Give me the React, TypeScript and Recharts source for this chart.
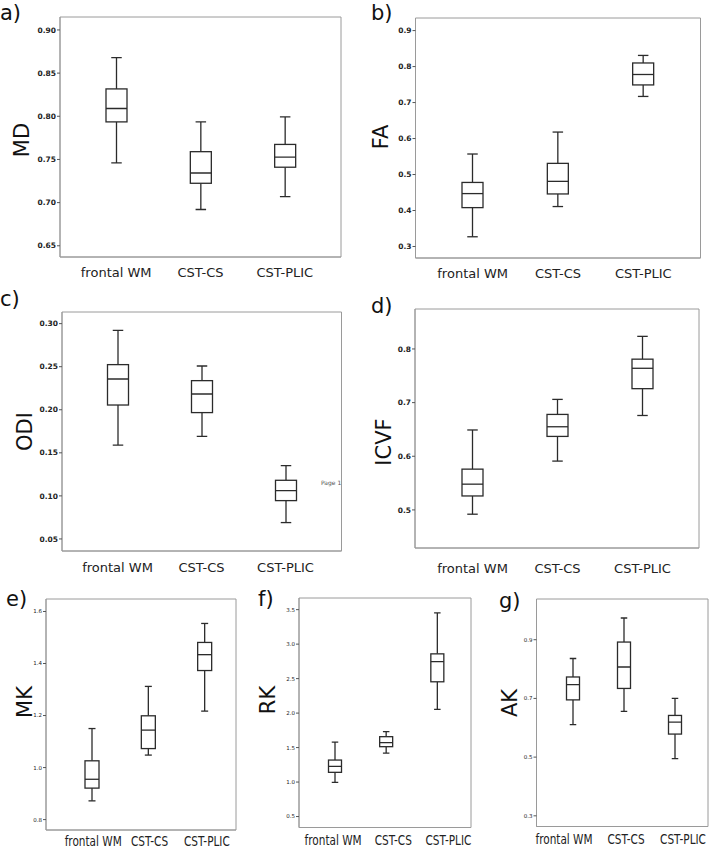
import { ComposedChart, Bar, XAxis, YAxis, CartesianGrid } from 'recharts';

const categories = ['frontal WM', 'CST-CS', 'CST-PLIC'];

// box plot stats per region: min, q1, median, q3, max
const mdMin = [0.746, 0.692, 0.707];
const mdQ1 = [0.7935, 0.7224, 0.741];
const mdMed = [0.809, 0.7343, 0.7528];
const mdQ3 = [0.8317, 0.759, 0.7674];
const mdMax = [0.868, 0.7935, 0.7993];
const mdTicks = [0.65, 0.7, 0.75, 0.8, 0.85, 0.9];

const faMin = [0.327, 0.411, 0.717];
const faQ1 = [0.408, 0.446, 0.749];
const faMed = [0.447, 0.481, 0.778];
const faQ3 = [0.478, 0.531, 0.81];
const faMax = [0.557, 0.618, 0.831];
const faTicks = [0.3, 0.4, 0.5, 0.6, 0.7, 0.8, 0.9];

const odiMin = [0.159, 0.169, 0.069];
const odiQ1 = [0.2055, 0.1967, 0.0945];
const odiMed = [0.2357, 0.2183, 0.1061];
const odiQ3 = [0.2524, 0.2338, 0.1181];
const odiMax = [0.2922, 0.2508, 0.1351];
const odiTicks = [0.05, 0.1, 0.15, 0.2, 0.25, 0.3];

const icvfMin = [0.492, 0.591, 0.676];
const icvfQ1 = [0.526, 0.637, 0.726];
const icvfMed = [0.548, 0.655, 0.764];
const icvfQ3 = [0.576, 0.678, 0.781];
const icvfMax = [0.649, 0.706, 0.8235];
const icvfTicks = [0.5, 0.6, 0.7, 0.8];

const mkMin = [0.872, 1.048, 1.217];
const mkQ1 = [0.921, 1.073, 1.373];
const mkMed = [0.955, 1.144, 1.434];
const mkQ3 = [1.026, 1.199, 1.481];
const mkMax = [1.15, 1.312, 1.554];
const mkTicks = [0.8, 1.0, 1.2, 1.4, 1.6];

const rkMin = [0.996, 1.42, 2.053];
const rkQ1 = [1.141, 1.513, 2.454];
const rkMed = [1.228, 1.571, 2.747];
const rkQ3 = [1.319, 1.658, 2.859];
const rkMax = [1.58, 1.73, 3.452];
const rkTicks = [0.5, 1.0, 1.5, 2.0, 2.5, 3.0, 3.5];

const akMin = [0.611, 0.656, 0.495];
const akQ1 = [0.695, 0.734, 0.5785];
const akMed = [0.747, 0.807, 0.619];
const akQ3 = [0.773, 0.892, 0.642];
const akMax = [0.836, 0.974, 0.7];
const akTicks = [0.3, 0.5, 0.7, 0.9];

const FONT = '"DejaVu Sans", sans-serif';
const FRAME = '#9a9a9a';
const INK = '#2b2b2b';

const buildRows = (mins: number[], q1: number[], med: number[], q3: number[], maxs: number[]) =>
  categories.map((name, i) => ({
    name,
    range: [mins[i], maxs[i]],
    min: mins[i],
    q1: q1[i],
    med: med[i],
    q3: q3[i],
    max: maxs[i],
  }));

const BoxShape = (props: any) => {
  const { x, y, width, height, payload } = props;
  const top = Math.min(y, y + height);
  const h = Math.abs(height);
  const lo = payload.min;
  const hi = payload.max;
  const py = (v: number) => top + ((hi - v) / (hi - lo)) * h;
  const cx = x + width / 2;
  const cap = width / 2;
  return (
    <g stroke={INK} strokeWidth={1.3} fill="none">
      <line x1={cx} x2={cx} y1={py(hi)} y2={py(payload.q3)} />
      <line x1={cx} x2={cx} y1={py(payload.q1)} y2={py(lo)} />
      <line x1={cx - cap / 2} x2={cx + cap / 2} y1={py(hi)} y2={py(hi)} />
      <line x1={cx - cap / 2} x2={cx + cap / 2} y1={py(lo)} y2={py(lo)} />
      <rect
        x={x}
        y={py(payload.q3)}
        width={width}
        height={py(payload.q1) - py(payload.q3)}
        fill="#fff"
      />
      <line x1={x} x2={x + width} y1={py(payload.med)} y2={py(payload.med)} />
    </g>
  );
};

// bottom row uses a squeezed label font, nudged a little per category
const makeCondensedTick = (shift: number[]) => (props: any) => {
  const { x, y, payload, index } = props;
  const dx = shift[index] ?? 0;
  return (
    <text
      transform={`translate(${x + dx},${y}) scale(0.75,1)`}
      textAnchor="middle"
      dy="0.71em"
      fontSize={14}
      fontFamily={FONT}
      fill="#222"
    >
      {payload.value}
    </text>
  );
};

interface PanelProps {
  rows: any[];
  ticks: number[];
  domain: [number, number];
  decimals: number;
  title: string;
  titleX: number;
  titleY: number;
  panelLeft: number;
  frame: [number, number, number, number];
  padL: number;
  padR: number;
  barSize: number;
  labelGap: number;
  labelShift?: number[];
  small?: boolean;
}

function BoxPanel(p: PanelProps) {
  const [x0, y0, x1, y1] = p.frame;
  const mTop = 4;
  const xh = 28;
  const top = y0 - mTop;
  const width = x1 - p.panelLeft + 2;
  const height = mTop + (y1 - y0) + xh + 2;
  const tx = p.titleX - p.panelLeft;
  const ty = p.titleY - top;
  // edges of the plot area, for the grey frame
  const left = x0 - p.panelLeft;
  const right = x1 - p.panelLeft;
  const bottom = mTop + (y1 - y0);
  const SmallTick = makeCondensedTick(p.labelShift ?? [0, 0, 0]);
  return (
    <div style={{ position: 'absolute', left: p.panelLeft, top }}>
      <ComposedChart
        width={width}
        height={height}
        data={p.rows}
        margin={{ top: mTop, right: 2, bottom: 2, left: 0 }}
      >
        <CartesianGrid
          stroke={FRAME}
          horizontalPoints={[mTop, bottom]}
          verticalPoints={[left, right]}
        />
        <XAxis
          dataKey="name"
          height={xh}
          padding={{ left: p.padL, right: p.padR }}
          axisLine={{ stroke: FRAME }}
          tickLine={false}
          tickSize={0}
          tickMargin={p.labelGap}
          interval={0}
          tick={
            p.small
              ? <SmallTick />
              : { fill: '#222', fontSize: 13, fontFamily: FONT }
          }
        />
        <YAxis
          type="number"
          domain={p.domain}
          allowDataOverflow
          ticks={p.ticks}
          interval={0}
          width={x0 - p.panelLeft}
          tickFormatter={(v: number) => v.toFixed(p.decimals)}
          axisLine={{ stroke: FRAME }}
          tickLine={{ stroke: '#555' }}
          tickSize={3}
          tickMargin={1}
          tick={{
            fill: '#222',
            fontSize: p.small ? 5.5 : 7.5,
            fontWeight: p.small ? 'normal' : 'bold',
            fontFamily: FONT,
          }}
          label={{
            content: () => (
              <text
                x={tx}
                y={ty}
                transform={`rotate(-90 ${tx} ${ty})`}
                textAnchor="middle"
                dominantBaseline="central"
                fontSize={21}
                fontFamily={FONT}
                fill="#111"
              >
                {p.title}
              </text>
            ),
          }}
        />
        <Bar dataKey="range" barSize={p.barSize} shape={BoxShape} isAnimationActive={false} />
      </ComposedChart>
    </div>
  );
}

const letters: [string, number, number][] = [
  ['a)', 0, 20],
  ['b)', 371, 20],
  ['c)', 0, 306],
  ['d)', 371, 313],
  ['e)', 6, 606],
  ['f)', 258, 606],
  ['g)', 499, 608],
];

export default function App() {
  return (
    <div
      style={{
        position: 'absolute',
        left: 0,
        top: 0,
        width: 710,
        height: 849,
        background: '#fff',
        overflow: 'hidden',
      }}
    >
      <BoxPanel
        rows={buildRows(mdMin, mdQ1, mdMed, mdQ3, mdMax)}
        ticks={mdTicks}
        domain={[0.637, 0.915]}
        decimals={2}
        title="MD"
        titleX={22}
        titleY={140}
        panelLeft={0}
        frame={[60, 17, 341, 257]}
        padL={14}
        padR={14}
        barSize={21}
        labelGap={11}
      />
      <BoxPanel
        rows={buildRows(faMin, faQ1, faMed, faQ3, faMax)}
        ticks={faTicks}
        domain={[0.268, 0.935]}
        decimals={1}
        title="FA"
        titleX={381}
        titleY={137}
        panelLeft={355}
        frame={[415.5, 18, 700.5, 258]}
        padL={14.5}
        padR={14.5}
        barSize={21}
        labelGap={11}
      />
      <BoxPanel
        rows={buildRows(odiMin, odiQ1, odiMed, odiQ3, odiMax)}
        ticks={odiTicks}
        domain={[0.036, 0.3135]}
        decimals={2}
        title="ODI"
        titleX={25}
        titleY={431}
        panelLeft={0}
        frame={[62, 311.5, 341.5, 550.5]}
        padL={13.5}
        padR={14}
        barSize={21}
        labelGap={12}
      />
      <BoxPanel
        rows={buildRows(icvfMin, icvfQ1, icvfMed, icvfQ3, icvfMax)}
        ticks={icvfTicks}
        domain={[0.429, 0.8745]}
        decimals={1}
        title="ICVF"
        titleX={384}
        titleY={442}
        panelLeft={355}
        frame={[415, 309, 699, 548]}
        padL={15}
        padR={14}
        barSize={21}
        labelGap={16}
      />
      <BoxPanel
        rows={buildRows(mkMin, mkQ1, mkMed, mkQ3, mkMax)}
        ticks={mkTicks}
        domain={[0.76, 1.648]}
        decimals={1}
        title="MK"
        titleX={25}
        titleY={702}
        panelLeft={0}
        frame={[46, 599, 236, 830]}
        padL={18}
        padR={3}
        barSize={14}
        labelGap={6}
        labelShift={[1, 1, 2]}
        small
      />
      <BoxPanel
        rows={buildRows(rkMin, rkQ1, rkMed, rkQ3, rkMax)}
        ticks={rkTicks}
        domain={[0.341, 3.669]}
        decimals={1}
        title="RK"
        titleX={268}
        titleY={700}
        panelLeft={240}
        frame={[299, 598, 471, 827.5]}
        padL={10.5}
        padR={8}
        barSize={13}
        labelGap={8}
        labelShift={[-2, 7, 11]}
        small
      />
      <BoxPanel
        rows={buildRows(akMin, akQ1, akMed, akQ3, akMax)}
        ticks={akTicks}
        domain={[0.2636, 1.0387]}
        decimals={1}
        title="AK"
        titleX={510}
        titleY={703}
        panelLeft={478}
        frame={[536.5, 599, 708, 826.5]}
        padL={11}
        padR={7.5}
        barSize={13}
        labelGap={7.5}
        labelShift={[-9, 2, 8]}
        small
      />
      <svg
        width={710}
        height={849}
        style={{ position: 'absolute', left: 0, top: 0, pointerEvents: 'none' }}
      >
        {letters.map(([t, x, y]) => (
          <text key={t} x={x} y={y} fontSize={21} fontFamily={FONT} fill="#111">
            {t}
          </text>
        ))}
        <text x={321} y={485} fontSize={6} fontFamily={FONT} fill="#555">
          Page 1
        </text>
      </svg>
    </div>
  );
}
